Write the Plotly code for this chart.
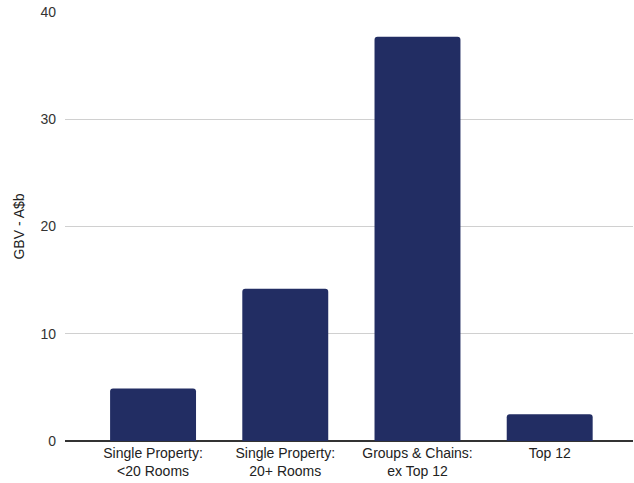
import plotly.graph_objects as go

categories = ["Single Property:<br>&lt;20 Rooms", "Single Property:<br>20+ Rooms",
              "Groups & Chains:<br>ex Top 12", "Top 12"]
values = [4.9, 14.2, 37.7, 2.5]
y_ticks = [0, 10, 20, 30, 40]

fig = go.Figure(go.Bar(
    x=list(range(len(categories))), y=values,
    marker=dict(color="#222d63", line=dict(width=0), cornerradius=3),
    width=0.65,
))

fig.update_layout(
    width=634, height=483,
    margin=dict(l=65, r=1, t=12, b=42),
    paper_bgcolor="white", plot_bgcolor="white",
    font=dict(family="Liberation Sans, Arial, sans-serif", size=14, color="#222222"),
    showlegend=False,
    xaxis=dict(
        tickmode="array", tickvals=list(range(len(categories))), ticktext=categories,
        range=[-0.666, 3.63], showgrid=False, zeroline=False, showline=False,
        ticks="", tickfont=dict(size=14, color="#222222"), ticklabelstandoff=2,
    ),
    yaxis=dict(
        range=[0, 40], tickvals=y_ticks, showgrid=True, gridcolor="#d0d0d0", gridwidth=1,
        zeroline=True, zerolinecolor="#333333", zerolinewidth=1.5,
        ticks="", tickfont=dict(size=14, color="#333333"), ticklabelstandoff=8,
        title=dict(text="GBV - A$b", font=dict(size=14, color="#222222"), standoff=12),
    ),
)

fig.write_html("out.html")
